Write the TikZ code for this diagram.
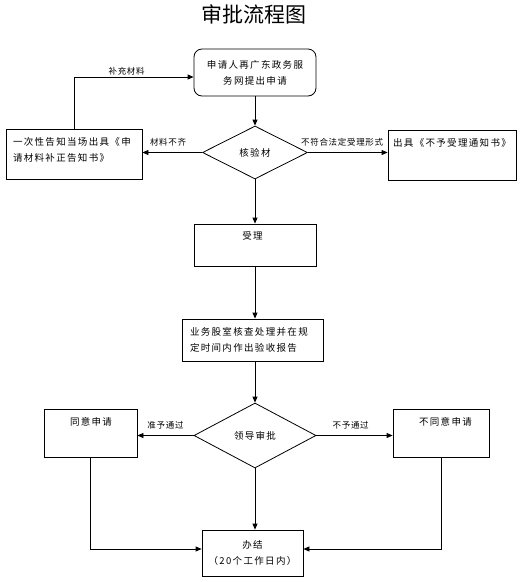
\documentclass[tikz,border=0pt]{standalone}
\usepackage{fontspec}
\setmainfont{Noto Sans CJK SC}
\newfontfamily\cjk[LetterSpace=14]{Noto Sans CJK SC}
\newfontfamily\cjksmall[LetterSpace=8]{Noto Sans CJK SC}
\usetikzlibrary{arrows.meta,positioning,shapes.geometric}

\tikzset{
  box/.style={draw,rectangle,inner sep=0pt},
  decision/.style={draw,diamond,inner sep=0pt},
  lbl/.style={font=\cjksmall\fontsize{8.5}{10}\selectfont,inner sep=0pt},
}

\begin{document}
\begin{tikzpicture}[x=1pt, y=-1pt, align=center, every path/.style={line width=0.8pt},
  >={Triangle[length=6pt,width=5pt]},
  every node/.append style={font=\cjk\fontsize{9.5}{16}\selectfont}]
\useasboundingbox (0,0) rectangle (527,582);

\node (title) [font=\fontsize{21}{24}\selectfont] at (254,14) {审批流程图};

\node (apply) [box,rounded corners=8pt,minimum width=122,minimum height=47] at (255,72.5) {申请人再广东政务服\\务网提出申请};
\node (check1) [decision,minimum width=105,minimum height=53] at (255,152.5) {核验材};

\node (notify) [box,minimum width=136,minimum height=50] at (74,154) {};
\node (notifyText) [text width=122,align=left] at (74,149.5) {一次性告知当场出具《申\\请材料补正告知书》};

\node (refuse) [box,minimum width=128,minimum height=50] at (452,155) {};
\node (refuseText) at (452,143) {出具《不予受理通知书》};

\draw[->] (apply) -- (check1);
\draw[->] (check1.west) -- node[lbl,above=6pt,pos=0.57] {材料不齐} (check1.west -| notify.east);
\draw[->] (check1.east) -- node[lbl,above=6pt,pos=0.43] {不符合法定受理形式} (check1.east -| refuse.west);
\draw[->] (notify.north) |- node[lbl,above=1pt,pos=0.72] {补充材料} ([yshift=-4.5pt]apply.west);

% -------------------------------

\node (accept) [box,minimum width=122,minimum height=42] at (255,245) {};
\node (acceptText) at (252.5,236) {受理};

\node (review) [box,minimum width=141,minimum height=42,text width=125,align=left] at (252.5,340) {业务股室核查处理并在规\\定时间内作出验收报告};

\draw[->] (check1) -- (accept);
\draw[->] (accept.south) -- (accept.south |- review.north);

% -------------------------------

\node (check2) [decision,minimum width=122,minimum height=65] at (255,435.5) {领导审批};

\node (agree) [box,minimum width=93,minimum height=48] at (90.5,433) {};
\node (agreeText) at (91,422) {同意申请};
\node (disagree) [box,minimum width=96,minimum height=48] at (441,433) {};
\node (disagreeText) at (445.5,422) {不同意申请};

\node (done) [box,minimum width=101,minimum height=46] at (252.5,553) {办结\\（20个工作日内）};

\draw[->] (accept.south |- review.south) -- (check2);
\draw[->] (check2.west) -- node[lbl,above=6pt,pos=0.5] {准予通过} (check2.west -| agree.east);
\draw[->] (check2.east) -- node[lbl,above=6pt,pos=0.45] {不予通过} (check2.east -| disagree.west);
\draw[->] (check2.south) -- (check2.south |- done.north);
\draw[->] (agree.south) |- ([yshift=4pt]done.west);
\draw[->] (disagree.south) |- ([yshift=4pt]done.east);
\end{tikzpicture}
\end{document}
